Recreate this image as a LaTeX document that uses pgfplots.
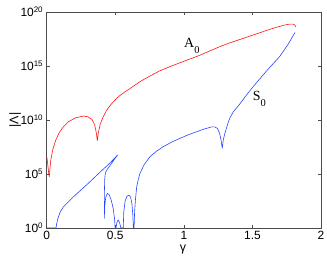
\documentclass[border=0pt]{standalone}
\usepackage{pgfplots}
\pgfplotsset{compat=1.18}
\usepackage{fontspec}
\setmainfont{Liberation Sans}
\newfontfamily\timesf{Liberation Serif}
\definecolor{ared}{RGB}{255,20,20}
\definecolor{sblue}{RGB}{40,70,255}
\begin{document}
\begin{tikzpicture}
\path[use as bounding box] (-46.7bp,-31bp) rectangle (280.3bp,228bp);
\begin{axis}[
  scale only axis, width=274.3bp, height=216bp,
  at={(0,0)}, anchor=south west,
  xmin=0, xmax=2, ymode=log, ymin=1, ymax=1e20,
  xtick={0,0.5,1,1.5,2}, xticklabels={0,0.5,1,1.5,2},
  ytick={1,1e5,1e10,1e15,1e20},
  yticklabels={10\textsuperscript{0},10\textsuperscript{5},10\textsuperscript{10},10\textsuperscript{15},10\textsuperscript{20}},
  yminorticks=false, xminorticks=false,
  tick align=inside, major tick length=3bp,
  axis line style={black!70, line width=0.5bp},
  tick style={black!70, line width=0.4bp},
  ticklabel style={font=\fontsize{12}{12}\selectfont},
  xlabel={γ}, ylabel={|Λ|},
  xlabel style={font=\fontsize{12.5}{12.5}\selectfont, at={(axis description cs:0.497,-0.098)}, anchor=center},
  ylabel style={font=\fontsize{12.5}{12.5}\selectfont, at={(axis description cs:-0.115,0.5)}, anchor=center},
  clip=true,
]
\addplot[ared, line width=0.6bp, line join=round] coordinates {
(0,3.98e6) (0.004,2.0e6) (0.01,3.98e5) (0.016,7.94e4) (0.019,5.62e4) (0.023,2.51e5)
(0.03,2.0e6) (0.045,2.0e7) (0.065,1.26e8) (0.09,6.31e8) (0.12,2.24e9) (0.16,7.08e9)
(0.21,1.585e10) (0.267,2.34e10) (0.3,2.0e10) (0.33,1.12e10) (0.35,3.55e9) (0.362,6.31e8)
(0.369,1.2e8) (0.376,6.31e8) (0.39,3.98e9) (0.41,1.78e10) (0.437,7.94e10) (0.46,2.0e11)
(0.48,3.98e11) (0.51,1e12) (0.534,1.86e12) (0.57,3.98e12) (0.6,7.08e12) (0.64,1.585e13)
(0.68,3.55e13) (0.75,1.12e14) (0.826,3.63e14) (0.9,8.91e14) (0.972,2.0e15) (1.045,4.47e15)
(1.118,1e16) (1.19,2.51e16) (1.264,6.31e16) (1.336,1.41e17) (1.42,3.16e17) (1.5,7.08e17)
(1.56,1.26e18) (1.62,2.34e18) (1.68,3.98e18) (1.73,6.03e18) (1.773,7.59e18) (1.795,7.59e18)
(1.808,6.31e18) (1.817,4.17e18)
};
\addplot[sblue, line width=0.6bp, line join=round] coordinates {
(0,1) (0.068,1) (0.072,2.24) (0.08,6.31) (0.097,28.2) (0.121,89.1) (0.2,891) (0.3,1.26e4)
(0.4,2.0e5) (0.46,1e6) (0.517,5.75e6)
(0.49,2.0e6) (0.46,5.62e5) (0.44,2.51e5) (0.428,1.26e5) (0.423,3.16e4) (0.421,3.16e3)
(0.42,100) (0.42,7.94) (0.423,100) (0.43,631) (0.442,1585) (0.455,1259) (0.47,398)
(0.485,63.1) (0.495,6.31) (0.499,1) (0.505,1) (0.512,3.16) (0.52,5.62) (0.53,3.55) (0.541,1)
(0.558,1) (0.562,31.6) (0.572,316) (0.585,891) (0.6,1122) (0.612,708) (0.622,158) (0.628,15.8)
(0.632,1) (0.637,1) (0.641,31.6) (0.647,398) (0.656,6310) (0.668,3.16e4) (0.68,1.15e5)
(0.71,7.08e5) (0.753,3.98e6) (0.8,1.26e7) (0.85,3.39e7) (0.91,8.91e7) (0.972,2.0e8)
(1.03,4.17e8) (1.094,8.32e8) (1.15,1.48e9) (1.203,2.29e9) (1.225,2.29e9) (1.244,1.7e9)
(1.26,6.31e8) (1.272,1.26e8) (1.28,2.4e7) (1.288,1.58e8) (1.3,6.31e8) (1.312,2.0e9)
(1.324,6.31e9) (1.336,1.6e10) (1.36,5.62e10) (1.4,2.24e11) (1.45,1.585e12) (1.506,1.26e13)
(1.55,5.62e13) (1.6,3.16e14) (1.65,1.585e15) (1.7,7.94e15) (1.76,1e17) (1.81,1.26e18)
};
\node[anchor=base west, inner sep=0pt, font=\timesf\fontsize{14}{14}\selectfont] at (axis cs:1.001,5.4e16) {A\raisebox{-0.42em}{\fontsize{10.5}{10.5}\selectfont 0}};
\node[anchor=base west, inner sep=0pt, font=\timesf\fontsize{14}{14}\selectfont] at (axis cs:1.502,6.1e11) {S\raisebox{-0.42em}{\fontsize{10.5}{10.5}\selectfont 0}};
\end{axis}
\end{tikzpicture}
\end{document}
